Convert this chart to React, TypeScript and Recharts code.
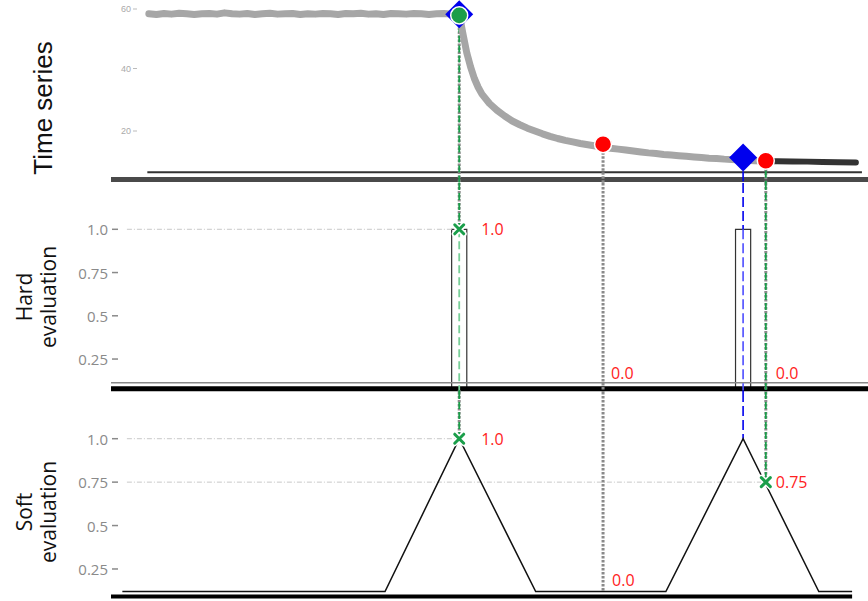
import React from 'react'
import { ComposedChart, Line, Scatter, XAxis, YAxis, ReferenceArea } from 'recharts'

const W = 868
const X_DOMAIN: [number, number] = [-5, 95]

// time series (top panel)
const TS_FLAT = [57.5, 57.3, 57.6, 57.4, 57.7, 57.5, 57.3, 57.5, 57.6, 57.4, 57.8, 57.5, 57.4, 57.6, 57.3, 57.5, 57.7, 57.4, 57.5, 57.6, 57.3,
  57.5, 57.4, 57.6, 57.5, 57.3, 57.6, 57.5, 57.7, 57.4, 57.5, 57.3, 57.6, 57.5, 57.4, 57.6, 57.5, 57.3, 57.5, 57.6, 57.4, 57.4]
const TS_DECAY_T = [41.5, 42, 42.5, 43, 43.5, 44, 45, 46, 47, 48, 49, 50, 51, 52, 53, 54, 55, 56, 57, 58, 59, 60, 61, 62, 63, 64, 65,
  66, 67, 68, 69, 70, 71, 72, 73, 74, 75, 76, 77, 78, 79, 80, 81, 81.5]
const TS_DECAY_V = [51, 45, 40.5, 36.8, 34, 31.8, 28.8, 26.6, 24.8, 23.2, 22, 20.9, 20, 19.1, 18.3, 17.6, 17, 16.5, 16, 15.6, 15.2, 14.9,
  14.5, 14.2, 13.9, 13.6, 13.3, 13, 12.8, 12.5, 12.3, 12.1, 11.9, 11.7, 11.5, 11.3, 11.2, 11, 10.9, 10.7, 10.6, 10.5, 10.4, 10.35]
const TS_DARK_T = [81.5, 83, 85, 87, 89, 91, 93.4]
const TS_DARK_V = [10.35, 10.3, 10.25, 10.2, 10.1, 10.0, 9.9]
const TS_TICKS = [20, 40, 60]
const TS_Y: [number, number] = [3.36, 61.92]
const TS_BASE = 6.8
const TS_FLOOR = 4.5
const TS_BASE_T = [-0.2, 94.2]

const DIAMONDS = [{ t: 41, v: 57.4 }, { t: 78.5, v: 11.5 }]
const GREEN_DOTS = [{ t: 41, v: 57.0 }]
const RED_DOTS = [{ t: 60, v: 15.8 }, { t: 81.5, v: 10.5 }]

// evaluation panels
const EVAL_TICKS = [0.25, 0.5, 0.75, 1]
const EVAL_TICK_LABELS = ['0.25', '0.5', '0.75', '1.0']
const HARD_Y: [number, number] = [0.0595, 1.2676]
const SOFT_Y: [number, number] = [0.0656, 1.2689]

const HARD_BAR_T = [41, 78.5]
const HARD_BAR_LOW = [0.07, 0.07]
const HARD_BAR_HIGH = [1, 1]
const BAR_HALF = 1
const HARD_BASE = 0.113
const HARD_FLOOR = 0.079
const HARD_MARKS = [{ t: 41, v: 1 }]
const HARD_LABELS = [{ t: 41, v: 1, text: '1.0' }, { t: 60, v: 0.169, text: '0.0' }, { t: 81.5, v: 0.169, text: '0.0' }]
const HARD_LABEL_DX = [22, 8, 10]
const HARD_GRID = [{ v: 1, to: 41 }]

const SOFT_T = [-3.5, 31.2, 41, 51.1, 68.3, 78.5, 88.5, 92.9]
const SOFT_V = [0.12, 0.12, 1, 0.12, 0.12, 1, 0.12, 0.12]
const SOFT_FLOOR = 0.0915
const SOFT_FLOOR_T = [-5, 92.9]
const SOFT_MARKS = [{ t: 41, v: 1 }, { t: 81.5, v: 0.75 }]
const SOFT_LABELS = [{ t: 41, v: 1, text: '1.0' }, { t: 60, v: 0.187, text: '0.0' }, { t: 81.5, v: 0.75, text: '0.75' }]
const SOFT_LABEL_DX = [22, 9, 10]
const SOFT_GRID = [{ v: 1, to: 41 }, { v: 0.75, to: 81.5 }]
const GRID_FROM = -2.9

// vertical connectors between panels
const CONN_T = [41, 60, 78.5, 81.5]
const CONN_KIND = ['hit', 'miss', 'pred', 'hit']
const CONN_TS_START = [57.0, 15.8, 11.5, 10.5]
const CONN_SOFT_END = [1, 0.12, 1, 0.75]

const GREEN = '#1a9e4a'
const GREEN_PALE = '#78cf98'
const RED = '#ff2222'
const BLUE = '#0000ee'
const BLUE_PALE = '#4d4dff'
const GRAY_DOT = '#8a8a8a'
const EVAL_FONT = '"Open Sans", "Noto Sans", sans-serif'

const seg = (t: number, a: number, b: number) => [{ t, v: a }, { t, v: b }]
const hseg = (v: number, a: number, b: number) => [{ t: a, v }, { t: b, v }]

function connector(key: string, kind: string, d: { t: number; v: number }[], pale = false) {
  const out: React.ReactNode[] = []
  if ((kind === 'hit' || kind === 'miss') && !pale) {
    out.push(<Line key={`${key}g`} data={d} dataKey="v" stroke={GRAY_DOT} strokeWidth={3} strokeDasharray="2.5 1.5" dot={false} isAnimationActive={false} />)
  }
  if (kind === 'hit') {
    out.push(<Line key={`${key}h`} data={d} dataKey="v" stroke={pale ? GREEN_PALE : GREEN} strokeWidth={1.8} strokeDasharray={pale ? '8 4' : '7 3'} dot={false} isAnimationActive={false} />)
  }
  if (kind === 'pred') {
    out.push(<Line key={`${key}p`} data={d} dataKey="v" stroke={pale ? BLUE_PALE : BLUE} strokeWidth={1.6} strokeDasharray="10 4" dot={false} isAnimationActive={false} />)
  }
  return out
}

function connectorLines(prefix: string, starts: number[], ends: number[]) {
  return CONN_T.flatMap((t, i) => connector(`${prefix}${i}`, CONN_KIND[i], seg(t, starts[i], ends[i])))
}

// in the hard panel, the part of a connector inside a bar shows through its pale fill
function hardConnectorLines() {
  return CONN_T.flatMap((t, i) => {
    const b = HARD_BAR_T.indexOf(t)
    if (b < 0) return connector(`hd${i}`, CONN_KIND[i], seg(t, HARD_Y[1], HARD_Y[0]))
    return [
      ...connector(`hd${i}a`, CONN_KIND[i], seg(t, HARD_Y[1], HARD_BAR_HIGH[b])),
      ...connector(`hd${i}b`, CONN_KIND[i], seg(t, HARD_BAR_HIGH[b], HARD_BAR_LOW[b]), true),
      ...connector(`hd${i}c`, CONN_KIND[i], seg(t, HARD_BAR_LOW[b], HARD_Y[0])),
    ]
  })
}

const Diamond = (p: any) => {
  const r = 14
  return <polygon points={`${p.cx},${p.cy - r} ${p.cx + r},${p.cy} ${p.cx},${p.cy + r} ${p.cx - r},${p.cy}`} fill={BLUE} />
}
const Dot = (color: string) => (p: any) => <circle cx={p.cx} cy={p.cy} r={8.5} fill={color} stroke="#fff" strokeWidth={1.5} />
const XMark = (p: any) => {
  const s = 4.5
  const d = `M${p.cx - s},${p.cy - s}L${p.cx + s},${p.cy + s}M${p.cx - s},${p.cy + s}L${p.cx + s},${p.cy - s}`
  return (
    <g>
      <path d={d} stroke="#fff" strokeWidth={6} strokeLinecap="round" />
      <path d={d} stroke={GREEN} strokeWidth={3} strokeLinecap="round" />
    </g>
  )
}
const RedLabel = (dxs: number[]) => (p: any) => (
  <text x={p.cx + dxs[p.index]} y={p.cy} fill={RED} fontSize={16} fontFamily={EVAL_FONT} dominantBaseline="central">{p.payload.text}</text>
)

const TsTick = (p: any) => (
  <g>
    <text x={131} y={p.y} textAnchor="end" dominantBaseline="central" fontSize={9} fill="#aaa" fontFamily='"Liberation Sans", Arial, sans-serif'>{p.payload.value}</text>
    <line x1={133} x2={137} y1={p.y} y2={p.y} stroke="#bbb" strokeWidth={1} />
  </g>
)
const EvalTick = (p: any) => (
  <g>
    <text x={108} y={p.y} textAnchor="end" dominantBaseline="central" fontSize={15} fill="#8a8a8a" fontFamily={EVAL_FONT}>
      {EVAL_TICK_LABELS[EVAL_TICKS.indexOf(p.payload.value)]}
    </text>
    <line x1={112} x2={118} y1={p.y} y2={p.y} stroke="#8a8a8a" strokeWidth={1.5} />
  </g>
)

export default function App() {
  const tsGray = [
    ...TS_FLAT.map((v, i) => ({ t: i, v })),
    ...TS_DECAY_T.map((t, i) => ({ t, v: TS_DECAY_V[i] })),
  ]
  const tsDark = TS_DARK_T.map((t, i) => ({ t, v: TS_DARK_V[i] }))
  const soft = SOFT_T.map((t, i) => ({ t, v: SOFT_V[i] }))

  const xAxis = <XAxis type="number" dataKey="t" domain={X_DOMAIN} allowDataOverflow hide />
  const margin = { top: 0, right: 0, bottom: 0, left: 0 }

  return (
    <div style={{ position: 'absolute', left: 0, top: 0, width: W, height: 601, background: '#fff' }}>
      {/* time series */}
      <div style={{ position: 'absolute', left: 0, top: 0 }}>
        <ComposedChart width={W} height={183} margin={margin}>
          {xAxis}
          <YAxis width={111} domain={TS_Y} allowDataOverflow ticks={TS_TICKS} tick={TsTick} axisLine={false} tickLine={false} />
          <Line data={hseg(TS_FLOOR, -5, 95)} dataKey="v" stroke="#4a4a4a" strokeWidth={5} dot={false} isAnimationActive={false} />
          <Line data={hseg(TS_BASE, TS_BASE_T[0], TS_BASE_T[1])} dataKey="v" stroke="#333" strokeWidth={2} dot={false} isAnimationActive={false} />
          {connectorLines('ts', CONN_TS_START, CONN_T.map(() => TS_Y[0]))}
          <Line data={tsGray} dataKey="v" stroke="#a6a6a6" strokeWidth={7} strokeLinecap="round" strokeLinejoin="round" dot={false} isAnimationActive={false} />
          <Line data={tsDark} dataKey="v" stroke="#333" strokeWidth={6} strokeLinecap="round" strokeLinejoin="round" dot={false} isAnimationActive={false} />
          <Scatter data={DIAMONDS} dataKey="v" shape={Diamond} isAnimationActive={false} />
          <Scatter data={GREEN_DOTS} dataKey="v" shape={Dot(GREEN)} isAnimationActive={false} />
          <Scatter data={RED_DOTS} dataKey="v" shape={Dot('#ff0000')} isAnimationActive={false} />
        </ComposedChart>
      </div>

      {/* hard evaluation */}
      <div style={{ position: 'absolute', left: 0, top: 183 }}>
        <ComposedChart width={W} height={209} margin={margin}>
          {xAxis}
          <YAxis width={111} domain={HARD_Y} allowDataOverflow ticks={EVAL_TICKS} tick={EvalTick} axisLine={false} tickLine={false} />
          {HARD_GRID.map((g, i) => (
            <Line key={`hg${i}`} data={hseg(g.v, GRID_FROM, g.to)} dataKey="v" stroke="#c8c8c8" strokeWidth={1} strokeDasharray="5 2 1 2" dot={false} isAnimationActive={false} />
          ))}
          {HARD_BAR_T.map((t, i) => (
            <ReferenceArea key={`bar${i}`} x1={t - BAR_HALF} x2={t + BAR_HALF} y1={HARD_BAR_LOW[i]} y2={HARD_BAR_HIGH[i]}
              fill="#fff" fillOpacity={1} stroke="#333" strokeWidth={1.2} strokeOpacity={1} />
          ))}
          <Line data={hseg(HARD_BASE, -5, 95)} dataKey="v" stroke="#888" strokeWidth={1.5} dot={false} isAnimationActive={false} />
          <Line data={hseg(HARD_FLOOR, -5, 95)} dataKey="v" stroke="#000" strokeWidth={5} dot={false} isAnimationActive={false} />
          {hardConnectorLines()}
          <Scatter data={HARD_MARKS} dataKey="v" shape={XMark} isAnimationActive={false} />
          <Scatter data={HARD_LABELS} dataKey="v" shape={RedLabel(HARD_LABEL_DX)} isAnimationActive={false} />
        </ComposedChart>
      </div>

      {/* soft evaluation */}
      <div style={{ position: 'absolute', left: 0, top: 392 }}>
        <ComposedChart width={W} height={209} margin={margin}>
          {xAxis}
          <YAxis width={111} domain={SOFT_Y} allowDataOverflow ticks={EVAL_TICKS} tick={EvalTick} axisLine={false} tickLine={false} />
          {SOFT_GRID.map((g, i) => (
            <Line key={`sg${i}`} data={hseg(g.v, GRID_FROM, g.to)} dataKey="v" stroke="#c8c8c8" strokeWidth={1} strokeDasharray="5 2 1 2" dot={false} isAnimationActive={false} />
          ))}
          <Line data={hseg(SOFT_FLOOR, SOFT_FLOOR_T[0], SOFT_FLOOR_T[1])} dataKey="v" stroke="#000" strokeWidth={4} dot={false} isAnimationActive={false} />
          {connectorLines('sf', CONN_T.map(() => SOFT_Y[1]), CONN_SOFT_END)}
          <Line data={soft} dataKey="v" stroke="#111" strokeWidth={1.5} dot={false} isAnimationActive={false} />
          <Scatter data={SOFT_MARKS} dataKey="v" shape={XMark} isAnimationActive={false} />
          <Scatter data={SOFT_LABELS} dataKey="v" shape={RedLabel(SOFT_LABEL_DX)} isAnimationActive={false} />
        </ComposedChart>
      </div>

      {/* panel titles */}
      <svg width={W} height={601} style={{ position: 'absolute', left: 0, top: 0, pointerEvents: 'none' }}>
        <text transform="rotate(-90)" x={-108} y={52} textAnchor="middle" fontSize={26} fill="#111" fontFamily='"Liberation Sans", Arial, sans-serif'>Time series</text>
        <text transform="rotate(-90)" textAnchor="middle" fontSize={21} fill="#111" fontFamily={EVAL_FONT}>
          <tspan x={-297} y={32}>Hard</tspan>
          <tspan x={-297} y={56}>evaluation</tspan>
        </text>
        <text transform="rotate(-90)" textAnchor="middle" fontSize={21} fill="#111" fontFamily={EVAL_FONT}>
          <tspan x={-512} y={32}>Soft</tspan>
          <tspan x={-512} y={56}>evaluation</tspan>
        </text>
      </svg>
    </div>
  )
}
